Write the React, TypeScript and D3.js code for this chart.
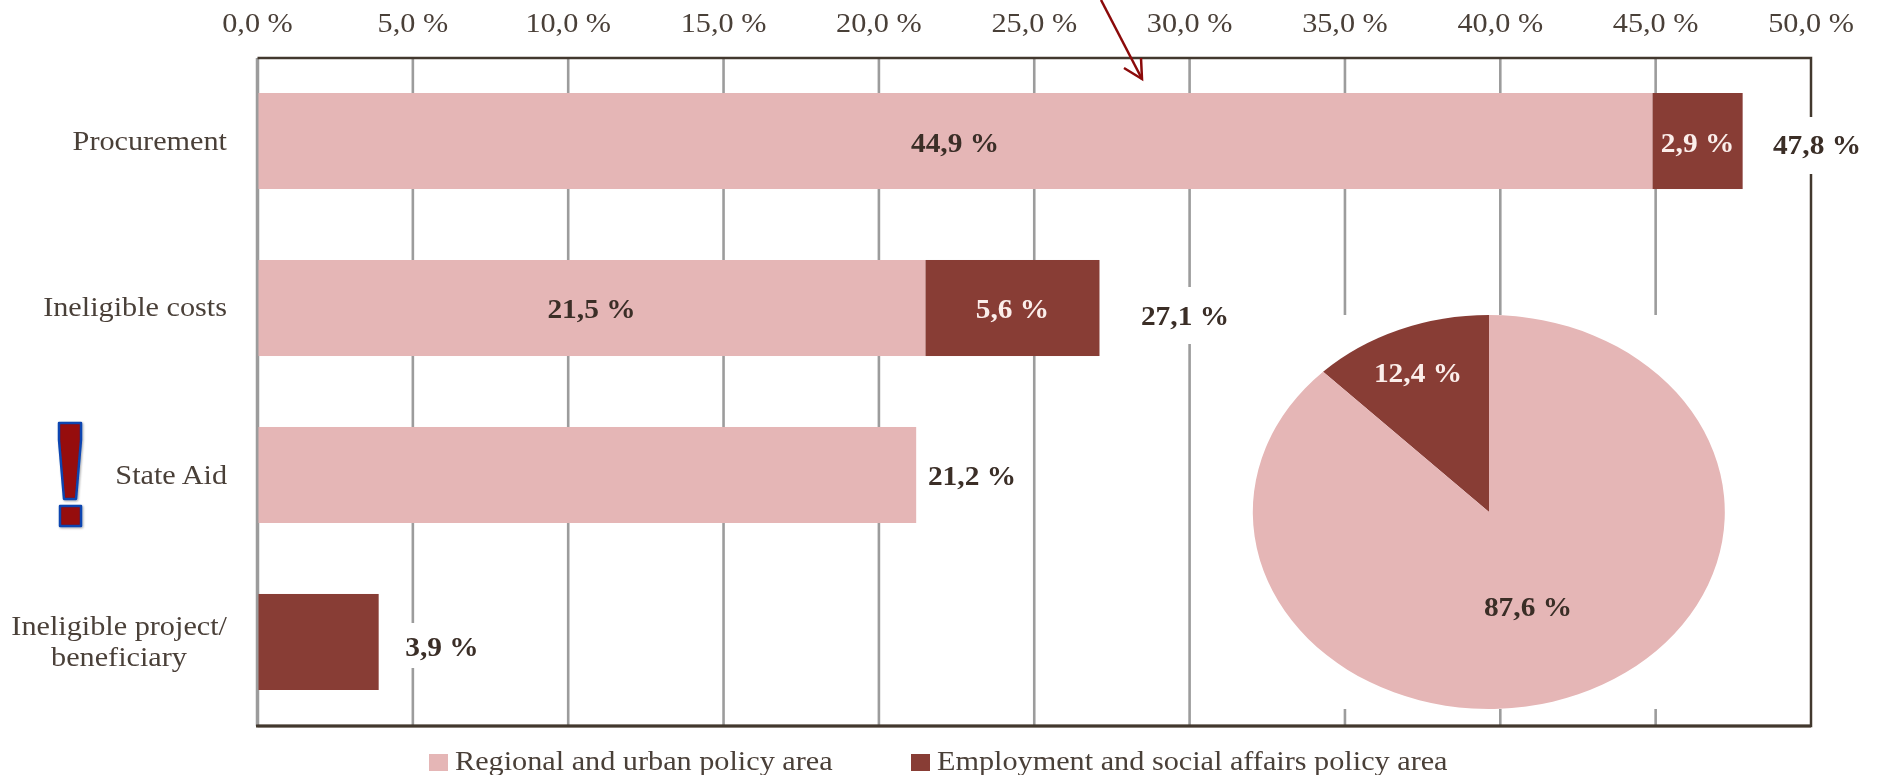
import React from "react";
import * as d3 from "d3";

const categories = ["Procurement", "Ineligible costs", "State Aid", "Ineligible project/"];
const regionalValues = [44.9, 21.5, 21.2, 0];
const employmentValues = [2.9, 5.6, 0, 3.9];
const totalValues = [47.8, 27.1, 21.2, 3.9];
const tickValues = [0, 5, 10, 15, 20, 25, 30, 35, 40, 45, 50];
const pieLabels = ["Employment and social affairs policy area", "Regional and urban policy area"];
const pieValues = [12.4, 87.6];

const PINK = "#e5b6b6";
const DARK = "#883c36";
const INK = "#4a3f38";
const BOLD = "#3a2e28";
const GRID = "#9c9c9c";
const FRAME = "#43382f";
const FONT = "'Liberation Serif', serif";
const FS = 28;

const fmt = (v: number) => v.toFixed(1).replace(".", ",") + " %";

const x = d3.scaleLinear().domain([0, 50]).range([257.5, 1811]);
const y = d3.scaleBand<string>().domain(categories).range([93, 690]).paddingInner(0.425).paddingOuter(0);
const TOP = 58;
const BOTTOM = 726;

const T = ({ cx, by, s, anchor = "middle", bold = false, fill = INK }: any) => (
  <text
    transform={`translate(${cx},${by}) scale(${bold ? 1.05 : 1.08},1)`}
    textAnchor={anchor}
    fontFamily={FONT}
    fontSize={FS}
    fontWeight={bold ? 700 : 400}
    fill={fill}
  >
    {s}
  </text>
);

const catBaselines = [150, 316, 484, 635];
const totalCx = [1817, 1185, 972, 442];
const totalBy = [154, 325, 485, 656];
const haloTop = [117, 287, 0, 623];
const haloBottom = [174, 344, 0, 668];

export default function App() {
  const arc = d3.arc<any>().innerRadius(0).outerRadius(1);
  const start = (-pieValues[0] / 100) * 2 * Math.PI;
  const pie = d3.pie<number>().sort(null).startAngle(start).endAngle(start + 2 * Math.PI)(pieValues);
  const PCX = 1489, PCY = 512, RX = 236, RY = 197;
  return (
    <svg width={1877} height={775} style={{ position: "absolute", left: 0, top: 0, background: "#fff" }}>
      <defs>
        <filter id="sh" x="-30%" y="-10%" width="160%" height="120%">
          <feDropShadow dx="1" dy="1" stdDeviation="1.2" floodColor="#000" floodOpacity="0.35" />
        </filter>
        <filter id="soft"><feGaussianBlur stdDeviation="0.45" /></filter>
      </defs>
      <g filter="url(#soft)">
        {tickValues.slice(0, -1).map((t) => (
          <line key={t} x1={x(t)} x2={x(t)} y1={TOP} y2={BOTTOM} stroke={GRID} strokeWidth={t === 0 ? 3.5 : 2.6} />
        ))}
        <rect x={1240} y={315} width={500} height={394} fill="#fff" />
        <path d={`M${x(0)},${TOP}H${x(50)}V${BOTTOM}H${x(0)}`} fill="none" stroke={FRAME} strokeWidth={2.5} />
        <line x1={x(0) - 1.5} x2={x(50)} y1={BOTTOM} y2={BOTTOM} stroke={FRAME} strokeWidth={3} />

        {categories.map((c, i) => (
          <g key={c}>
            <rect x={x(0) + 1} y={y(c)} width={Math.max(0, x(regionalValues[i]) - x(0) - 1)} height={y.bandwidth()} fill={PINK} />
            <rect
              x={regionalValues[i] ? x(regionalValues[i]) : x(0) + 1}
              y={y(c)}
              width={x(regionalValues[i] + employmentValues[i]) - (regionalValues[i] ? x(regionalValues[i]) : x(0) + 1)}
              height={y.bandwidth()}
              fill={DARK}
            />
          </g>
        ))}

        {totalValues.map((v, i) =>
          haloBottom[i] ? (
            <rect key={i} x={totalCx[i] - 45} y={haloTop[i]} width={90} height={haloBottom[i] - haloTop[i]} fill="#fff" />
          ) : null
        )}

        <g transform={`translate(${PCX},${PCY}) scale(${RX},${RY})`}>
          {pie.map((d, i) => (
            <path key={pieLabels[i]} d={arc(d) as string} fill={i === 0 ? DARK : PINK} />
          ))}
        </g>

        {tickValues.map((t) => (
          <T key={t} cx={x(t)} by={32} s={fmt(t)} />
        ))}

        {categories.map((c, i) => (
          <T key={c} cx={227} by={catBaselines[i]} s={c} anchor="end" />
        ))}
        <T cx={119} by={666} s="beneficiary" />

        {categories.map((c, i) => (
          <g key={c}>
            {regionalValues[i] > 0 && employmentValues[i] > 0 && (
              <T cx={x(regionalValues[i] / 2)} by={catBaselines[i] + 2} s={fmt(regionalValues[i])} bold fill={BOLD} />
            )}
            {regionalValues[i] > 0 && employmentValues[i] > 0 && (
              <T
                cx={x(regionalValues[i] + employmentValues[i] / 2)}
                by={catBaselines[i] + 2}
                s={fmt(employmentValues[i])}
                bold
                fill="#fbeeea"
              />
            )}
            <T cx={totalCx[i]} by={totalBy[i]} s={fmt(totalValues[i])} bold fill={BOLD} />
          </g>
        ))}

        <T cx={1418} by={382} s={fmt(pieValues[0])} bold fill="#fbeeea" />
        <T cx={1528} by={616} s={fmt(pieValues[1])} bold fill={BOLD} />

        <rect x={429} y={754} width={19} height={17} fill={PINK} />
        <T cx={455} by={770} s={pieLabels[1]} anchor="start" />
        <rect x={911} y={754} width={19} height={17} fill={DARK} />
        <T cx={937} by={770} s={pieLabels[0]} anchor="start" />
      </g>

      <g fill="none" stroke="#8b0a0a" strokeWidth={2.5}>
        <path d="M1101,0L1142,79" />
        <path d="M1141,58L1142,79L1124,68" />
      </g>
      <g fill="#960a0a" stroke="#0a45b0" strokeWidth={2.5} strokeLinejoin="round" filter="url(#sh)">
        <path d="M59,423H81V440L76,499H64L59,440Z" />
        <rect x={60} y={506} width={21} height={20} />
      </g>
    </svg>
  );
}
